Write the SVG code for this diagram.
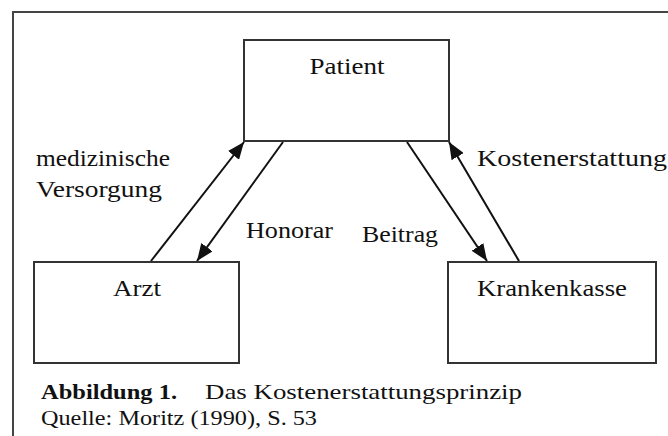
<svg xmlns="http://www.w3.org/2000/svg" width="668" height="436" viewBox="0 0 668 436">
  <defs>
    <style>
      .box { fill: #ffffff; stroke: #333333; stroke-width: 2; }
      .frame { fill: #ffffff; stroke: #444444; stroke-width: 2; }
      text { font-family: 'Liberation Serif', 'DejaVu Serif', 'Times New Roman', Times, serif; fill: #111111; }
      .lbl { font-size: 24px; }
      .cap { font-size: 22px; }
      .bold { font-weight: bold; }
      .conn { stroke: #111111; stroke-width: 2; fill: none; marker-end: url(#arrow); }
    </style>
    <marker id="arrow" markerUnits="userSpaceOnUse" markerWidth="18" markerHeight="14" refX="17" refY="7" orient="auto">
      <path d="M0,0 L17,7 L0,14 Z" fill="#111111"/>
    </marker>
  </defs>

  <rect class="frame" x="13" y="12" width="700" height="500"/>

  <g id="connectors">
    <line class="conn" x1="151" y1="261" x2="244" y2="142"/>
    <line class="conn" x1="283" y1="142" x2="197" y2="261"/>
    <line class="conn" x1="407" y1="142" x2="487" y2="261"/>
    <line class="conn" x1="519" y1="261" x2="449" y2="142"/>
  </g>

  <g id="patient">
    <rect class="box" x="244" y="40" width="205" height="101"/>
    <text class="lbl" font-family="Liberation Serif, serif" x="347" y="74" text-anchor="middle" textLength="75" lengthAdjust="spacingAndGlyphs">Patient</text>
  </g>

  <g id="arzt">
    <rect class="box" x="34" y="262" width="205" height="101"/>
    <text class="lbl" x="137" y="296" text-anchor="middle" textLength="48" lengthAdjust="spacingAndGlyphs">Arzt</text>
  </g>

  <g id="krankenkasse">
    <rect class="box" x="448" y="262" width="208" height="101"/>
    <text class="lbl" x="552" y="296" text-anchor="middle" textLength="150" lengthAdjust="spacingAndGlyphs">Krankenkasse</text>
  </g>

  <g id="labels">
    <text class="lbl" x="36" y="166" textLength="134" lengthAdjust="spacingAndGlyphs">medizinische</text>
    <text class="lbl" x="36" y="197" textLength="126" lengthAdjust="spacingAndGlyphs">Versorgung</text>
    <text class="lbl" x="246" y="238" textLength="87" lengthAdjust="spacingAndGlyphs">Honorar</text>
    <text class="lbl" x="362" y="242" textLength="76" lengthAdjust="spacingAndGlyphs">Beitrag</text>
    <text class="lbl" x="477" y="166" textLength="190" lengthAdjust="spacingAndGlyphs">Kostenerstattung</text>
  </g>

  <g id="caption">
    <text class="cap bold" x="41" y="399" textLength="136" lengthAdjust="spacingAndGlyphs">Abbildung 1.</text>
    <text class="cap" x="205" y="399" textLength="317" lengthAdjust="spacingAndGlyphs">Das Kostenerstattungsprinzip</text>
    <text class="cap" x="41" y="425" textLength="276" lengthAdjust="spacingAndGlyphs">Quelle: Moritz (1990), S. 53</text>
  </g>
</svg>
